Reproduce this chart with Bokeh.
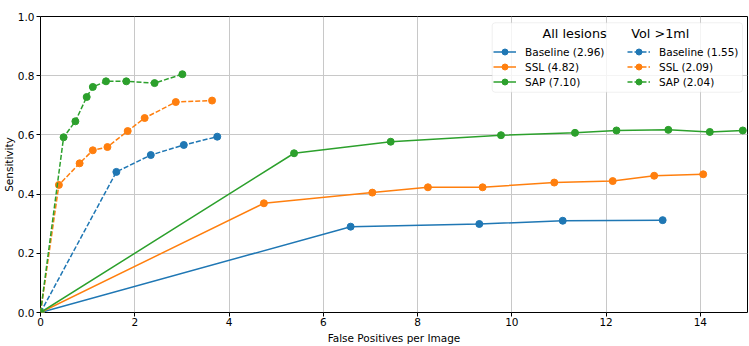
from bokeh.plotting import figure
from bokeh.models import (Range1d, FixedTicker, Legend, LegendItem, Label,
                          BoxAnnotation, PrintfTickFormatter, Title)
from bokeh.embed import file_html
from bokeh.resources import INLINE

FONT = "DejaVu Sans"

# FROC operating points: false positives per image vs. sensitivity
# All lesions
fp_baseline_all = [0.0, 6.58, 9.31, 11.08, 13.20]
sens_baseline_all = [0.0, 0.290, 0.299, 0.310, 0.312]
fp_ssl_all = [0.0, 4.74, 7.04, 8.22, 9.38, 10.90, 12.14, 13.02, 14.06]
sens_ssl_all = [0.0, 0.369, 0.405, 0.423, 0.423, 0.439, 0.444, 0.462, 0.467]
fp_sap_all = [0.0, 5.38, 7.43, 9.77, 11.34, 12.22, 13.32, 14.20, 14.90]
sens_sap_all = [0.0, 0.538, 0.577, 0.599, 0.607, 0.615, 0.617, 0.610, 0.615]

# Lesions with volume > 1 ml
fp_baseline_vol = [0.0, 1.61, 2.34, 3.04, 3.75]
sens_baseline_vol = [0.0, 0.475, 0.532, 0.566, 0.594]
fp_ssl_vol = [0.0, 0.39, 0.83, 1.11, 1.42, 1.85, 2.21, 2.87, 3.64]
sens_ssl_vol = [0.0, 0.431, 0.504, 0.548, 0.559, 0.613, 0.657, 0.711, 0.716]
fp_sap_vol = [0.0, 0.49, 0.74, 0.98, 1.11, 1.39, 1.82, 2.42, 3.01]
sens_sap_vol = [0.0, 0.592, 0.646, 0.728, 0.762, 0.781, 0.781, 0.775, 0.805]

labels_all = ["Baseline (2.96)", "SSL (4.82)", "SAP (7.10)"]
labels_vol = ["Baseline (1.55)", "SSL (2.09)", "SAP (2.04)"]
group_headers = ["All lesions", "Vol >1ml"]

x_ticks = [0, 2, 4, 6, 8, 10, 12, 14]
y_ticks = [0.0, 0.2, 0.4, 0.6, 0.8, 1.0]

colors = ["#1f77b4", "#ff7f0e", "#2ca02c"]

p = figure(width=749, height=346, output_backend="svg", toolbar_location=None,
           x_range=Range1d(0, 15), y_range=Range1d(0, 1),
           min_border_left=40, min_border_right=2,
           min_border_top=16, min_border_bottom=33)
p.background_fill_color = "white"
p.border_fill_color = "white"
p.outline_line_color = "black"
p.outline_line_width = 1

p.xaxis.ticker = FixedTicker(ticks=x_ticks)
p.yaxis.ticker = FixedTicker(ticks=y_ticks)
p.yaxis.formatter = PrintfTickFormatter(format="%.1f")
p.xgrid.ticker = FixedTicker(ticks=x_ticks)
p.ygrid.ticker = FixedTicker(ticks=y_ticks)
p.grid.grid_line_color = "#c8c8c8"
p.grid.grid_line_width = 1

for ax in (p.xaxis, p.yaxis):
    ax.axis_line_color = None
    ax.major_tick_in = 0
    ax.major_tick_out = 4
    ax.major_tick_line_color = "black"
    ax.minor_tick_line_color = None
    ax.major_label_text_font = FONT
    ax.major_label_text_font_size = "10.5px"
    ax.major_label_text_color = "black"
    ax.axis_label_text_font = FONT
    ax.axis_label_text_font_size = "10.5px"
    ax.axis_label_text_font_style = "normal"
    ax.axis_label_text_color = "black"

p.xaxis.axis_label = "False Positives per Image"
p.xaxis.major_label_standoff = 1
p.xaxis.axis_label_standoff = 3
p.yaxis.major_label_standoff = 2

# y axis title as a slim side panel left of the tick labels
p.add_layout(Title(text="Sensitivity", align="center", text_font=FONT,
                   text_font_size="10.5px", text_font_style="normal",
                   text_color="black", standoff=0, offset=0), "left")

series_all = [(fp_baseline_all, sens_baseline_all),
              (fp_ssl_all, sens_ssl_all),
              (fp_sap_all, sens_sap_all)]
series_vol = [(fp_baseline_vol, sens_baseline_vol),
              (fp_ssl_vol, sens_ssl_vol),
              (fp_sap_vol, sens_sap_vol)]

items_all, items_vol = [], []
for (xs, ys), c, lab in zip(series_all, colors, labels_all):
    ln = p.line(xs, ys, line_color=c, line_width=1.5)
    sc = p.scatter(xs, ys, size=7, fill_color=c, line_color=c)
    items_all.append(LegendItem(label=lab, renderers=[ln, sc]))
for (xs, ys), c, lab in zip(series_vol, colors, labels_vol):
    ln = p.line(xs, ys, line_color=c, line_width=1.5, line_dash="5 2")
    sc = p.scatter(xs, ys, size=7, fill_color=c, line_color=c)
    items_vol.append(LegendItem(label=lab, renderers=[ln, sc]))

# legend frame behind the two legend columns
frame = BoxAnnotation(left=9.583, right=14.894, bottom=0.7441, top=0.9788,
                      fill_color="white", fill_alpha=0.8,
                      line_color="#cccccc", line_width=1, border_radius=3)
p.add_layout(frame)


def make_legend(items, loc):
    lg = Legend(items=items, location=loc, orientation="vertical",
                padding=0, margin=0, spacing=0,
                glyph_width=23, glyph_height=15, label_height=15,
                label_standoff=9, label_text_font=FONT,
                label_text_font_size="10.5px", label_text_color="black",
                border_line_color=None, background_fill_alpha=0)
    return lg


p.add_layout(make_legend(items_all, (453, 223)))
p.add_layout(make_legend(items_vol, (587, 223)))

for hx, txt in zip([10.651, 12.533], group_headers):
    p.add_layout(Label(x=hx, y=0.9438, text=txt, text_align="left",
                       text_baseline="middle", text_font=FONT,
                       text_font_size="12.8px", text_color="black"))

p.add_layout(Label(x=7.5, y=1.0236, text="FROC Curves", text_align="center",
                   text_baseline="alphabetic", text_font=FONT,
                   text_font_size="12.5px", text_color="black"))

open("out.html", "w").write(file_html(p, INLINE))
